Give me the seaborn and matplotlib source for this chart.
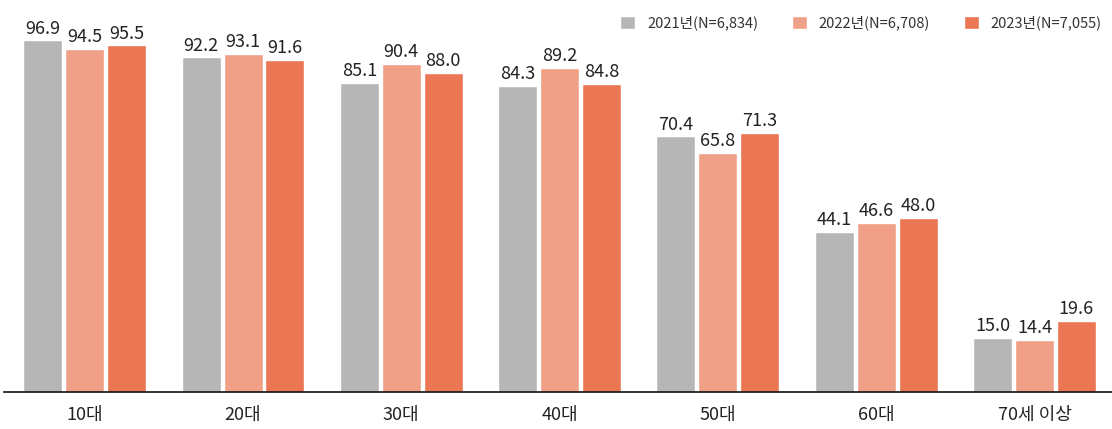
import matplotlib
matplotlib.use("Agg")
import matplotlib.pyplot as plt
import seaborn as sns
import pandas as pd

categories = ["10대", "20대", "30대", "40대", "50대", "60대", "70세 이상"]
series_names = ["2021년(N=6,834)", "2022년(N=6,708)", "2023년(N=7,055)"]
v2021 = [96.9, 92.2, 85.1, 84.3, 70.4, 44.1, 15.0]
v2022 = [94.5, 93.1, 90.4, 89.2, 65.8, 46.6, 14.4]
v2023 = [95.5, 91.6, 88.0, 84.8, 71.3, 48.0, 19.6]
colors = ["#B5B6B5", "#F1A088", "#EB7654"]

rows = []
for name, vals in zip(series_names, [v2021, v2022, v2023]):
    for c, v in zip(categories, vals):
        rows.append({"cat": c, "series": name, "value": v})
df = pd.DataFrame(rows)

sns.set_style("white")
plt.rcParams['font.family'] = ['Noto Sans CJK KR', 'DejaVu Sans']

fig = plt.figure(figsize=(11.12, 4.29), dpi=100)
ax = fig.add_axes([4/1112, 37/429, 1 - 4/1112, 392/429])

sns.barplot(data=df, x="cat", y="value", hue="series", order=categories,
            hue_order=series_names, palette=colors, width=0.795, gap=0.07,
            saturation=1, ax=ax, errorbar=None)

for cont in ax.containers:
    ax.bar_label(cont, fmt="%.1f", padding=2, fontsize=13, color="#222222")

ax.set_xlim(-0.51, 6.49)
ax.set_ylim(0, 108)
ax.set_xlabel("")
ax.set_ylabel("")
ax.set_yticks([])
for s in ["top", "right", "left"]:
    ax.spines[s].set_visible(False)
ax.spines["bottom"].set_color("#111111")
ax.spines["bottom"].set_linewidth(1.2)
ax.tick_params(axis="x", length=0, pad=10, labelsize=13, colors="#222222")

leg = ax.legend(loc="upper right", bbox_to_anchor=(0.996, 0.975), ncol=3, frameon=False,
                fontsize=10.5, handlelength=1.05, handleheight=1.05, columnspacing=2.3,
                handletextpad=0.8, borderaxespad=0)
for t in leg.get_texts():
    t.set_color("#333333")

fig.savefig("out.png", dpi=100)
